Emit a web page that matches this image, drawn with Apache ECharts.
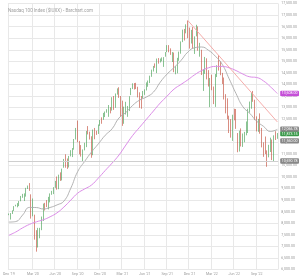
<!DOCTYPE html>
<html><head><meta charset="utf-8">
<script src="https://cdn.jsdelivr.net/npm/echarts@6/dist/echarts.min.js"></script>
<style>html,body{margin:0;padding:0;background:#fff}#c{width:300px;height:279px}</style>
</head><body><div id="c"></div>
<script>
// Weekly Nasdaq 100 candles, first week 2019-11-25
const startDate = '2019-11-25';
const opens = [8380,8410,8430,8540,8750,8790,8760,8960,9180,9020,9200,9520,9640,9150,8500,8000,7400,7100,7500,7750,8180,8800,8800,8650,9140,9250,9390,9550,9850,9500,10070,9870,10420,10800,10520,10530,10900,11170,11210,11650,12160,11350,11250,10830,11250,11350,12100,11900,11590,11000,12000,11930,11880,12270,12500,12480,12720,12840,12900,12980,12880,13440,13000,13630,13820,13350,13000,12600,12800,12850,12900,13560,13830,14040,14000,13880,13560,13380,13450,13720,13790,14090,14120,14370,14660,14830,14600,15100,15000,15120,15100,15210,15420,15680,15440,15050,15300,14520,14600,15100,15400,15870,16350,16300,16650,16200,15800,16300,15500,16100,16350,15500,15400,14300,14700,14950,14200,14000,14180,13700,13400,14400,14900,14850,14350,14100,13300,12900,12450,12300,11850,12700,12600,11800,11150,12050,11400,11800,11900,12050,12900,13200,13620,13180,12450,12000,12550,11900,11250,11050,11000,10850,11400,11550,10900,11700,11680];
const highs = [8420,8440,8560,8740,8800,8870,8960,9180,9270,9290,9530,9630,9736,9250,9070,8370,7700,7800,7800,8290,8850,8880,9000,9140,9290,9400,9560,9830,10020,10100,10200,10360,10780,10980,10800,10910,11160,11250,11640,12120,12439,11560,11380,11190,11480,11990,12200,11960,11760,12050,12120,12000,12270,12470,12580,12770,12830,12930,13110,13020,13450,13500,13610,13830,13880,13500,13300,13040,13250,13070,13490,13850,14050,14060,14070,13900,13660,13500,13720,13790,14090,14170,14380,14640,14800,14910,15120,15140,15120,15170,15180,15400,15700,15700,15560,15400,15380,14790,15150,15420,15860,16370,16400,16600,16764,16460,16360,16480,16080,16580,16510,15800,15500,14660,15190,15130,14620,14280,14420,13910,14450,14830,15265,15000,14500,14300,13580,13400,12650,12500,12690,12950,12940,11900,12000,12100,11880,11950,12400,12950,13260,13640,13720,13340,12620,12510,12750,12120,11500,11750,11150,11390,11700,11620,11800,11980,11900];
const lows = [8350,8160,8400,8530,8730,8690,8740,8950,9100,8960,9150,9480,9400,8200,8300,7290,6771,6950,7350,7700,8100,8550,8700,8600,8900,9230,9260,9530,9450,9470,9830,9850,10400,10400,10350,10410,10890,10860,11180,11620,11500,10980,10880,10680,11150,11290,11840,11620,10830,10940,11630,11820,11860,12210,12300,12470,12590,12780,12600,12750,12870,12900,12990,13560,13420,12600,12210,12300,12700,12600,12850,13540,13800,13780,13800,13440,12990,12950,13400,13550,13740,13900,14060,14330,14560,14720,14490,14900,14950,15000,14760,15200,15400,15390,15280,14970,14530,14440,14480,15020,15330,15830,15900,16210,16000,15550,15770,15550,15320,16080,15460,15200,14410,13720,14460,14220,13910,13020,13750,13150,13030,14320,14600,14400,14020,13350,12750,12500,11900,11700,11560,12450,12080,11070,11100,11320,11300,11500,11800,11900,12780,12950,13250,12460,11970,11950,11870,11280,10870,10990,10440,10850,11080,10730,10690,11600,11650];
const closes = [8403,8437,8523,8735,8778,8794,8946,9174,9187,9151,9513,9623,9446,8462,8530,7875,6994,7587,7528,8230,8833,8784,8718,9122,9152,9325,9555,9825,9589,10056,9849,10341,10768,10504,10461,10906,11139,11186,11620,12110,11622,11087,10938,11168,11305,11980,11877,11692,10912,12044,11936,11855,12258,12468,12440,12756,12804,12888,13105,12803,13366,12925,13603,13807,13474,12909,12668,12824,12821,12934,13480,13845,14041,13975,13860,13720,13430,13362,13687,13773,14069,14143,14360,14640,14799,14730,15116,14960,15111,15150,15150,15375,15652,15404,15325,15310,14566,14579,15146,15358,15850,16345,16285,16573,16025,15712,16330,15552,16056,16320,15592,15611,14441,14644,14920,14254,13943,14238,13838,13301,14420,14813,14862,14441,14059,13357,12855,12603,12388,11835,12681,12572,12087,11099,11985,11428,11840,11860,12080,12947,13206,13630,13249,12465,12040,12498,11948,11312,10971,11040,10737,11384,11600,10850,11700,11677,11873];

// Moving averages read at every 4th week
const maIdx = [0,4,8,12,16,20,24,28,32,36,40,44,48,52,56,60,64,68,72,76,80,84,88,92,96,100,104,108,112,116,120,124,128,132,136,140,144,148,152,156];
const ma20 = [8050,8072,8354,8683,8679,8617,8682,8792,8956,9514,10232,10668,11076,11430,11803,12084,12550,12788,13098,13324,13460,13667,14102,14453,14734,15036,15400,15587,15619,15477,15220,14867,14245,13606,13035,12750,12410,12187,11966,12060];
const ma50 = [7480,7620,7800,7950,8060,8150,8280,8450,8700,9000,9300,9480,9650,9950,10280,10600,10950,11380,11800,12150,12500,12850,13200,13500,13800,14000,14200,14420,14600,14720,14780,14780,14720,14600,14450,14330,14300,14150,13900,13608];

// Trend line from the high
const trendIdx = [104, 156];
const trendVal = [16764, 12380];

// Tick labels (x)
const xTickIdx = [0,14,27,40,53,66,79,92,105,118,131,144];
const xTickText = ["Dec '19","Mar '20","Jun '20","Sep '20","Dec '20","Mar '21","Jun '21","Sep '21","Dec '21","Mar '22","Jun '22","Sep '22"];

// Right-side value tags
const tagPurple = 13608.00;
const tagMa20 = 12066.78;
const tagLast = 11873.15;
const tagGrey2 = 11560.00;
const tagLow = 10690.78;

const cats = [];
{ const d0 = new Date(startDate + 'T00:00:00Z');
  for (let i = 0; i < closes.length; i++) { const d = new Date(d0.getTime() + i*7*86400000); cats.push(d.toISOString().slice(0,10)); } }
const candle = closes.map((c,i)=>[opens[i], c, lows[i], highs[i]]);
const fmt = v => v.toLocaleString('en-US',{minimumFractionDigits:2,maximumFractionDigits:2});
const showAt = (i) => xTickIdx.indexOf(i) >= 0;

function tag(v, bg, lineColor) {
  return { yAxis: v, symbol:'none',
    lineStyle: lineColor ? {color:lineColor, width:1, type:'solid'} : {color:'rgba(0,0,0,0)', width:1, type:'solid'},
    label:{show:true, position:'end', formatter: fmt(v), color:'#fff', backgroundColor:bg, fontSize:3.6,
      fontFamily:'Roboto', padding:[0.8,1.5,0.6,1.5], borderRadius:1, distance:2} };
}

const chart = echarts.init(document.getElementById('c'), null, {renderer:'canvas'});
chart.setOption({
  animation:false,
  backgroundColor:'#fff',
  title:{ text:'Nasdaq 100 Index ($IUXX) - Barchart.com', left:3, top:3,
    textStyle:{fontSize:4.6, fontWeight:'normal', color:'#a0a0a0', fontFamily:'Roboto'} },
  grid:{ left:0, right:21, top:3.5, bottom:9.5 },
  xAxis:{ type:'category', data:cats, boundaryGap:true,
    axisLine:{show:false}, axisTick:{show:false},
    axisLabel:{ interval:(i)=>showAt(i), formatter:(v,i)=>xTickText[xTickIdx.indexOf(i)] || '', fontSize:3.6, color:'#999', margin:3, fontFamily:'Roboto' },
    splitLine:{ show:true, interval:(i)=>showAt(i), lineStyle:{color:'#e8e8e8', width:1} } },
  yAxis:{ type:'value', position:'right', min:6000, max:17500, interval:500,
    axisLine:{show:false}, axisTick:{show:false},
    axisLabel:{ formatter:fmt, fontSize:3.6, color:'#999', margin:3, fontFamily:'Roboto' },
    splitLine:{ lineStyle:{color:'#e8e8e8', width:1} } },
  series:[
    { type:'candlestick', data:candle, barWidth:'70%',
      itemStyle:{ color:'#3a9a4a', color0:'#c0412e', borderColor:'#3a9a4a', borderColor0:'#c0412e', borderWidth:0.6 },
      markLine:{ silent:true, symbol:'none', animation:false,
        data:[ tag(tagLow,'#888','#cfcfcf'), tag(tagGrey2,'#888'), tag(tagLast,'#3a9a4a') ] } },
    { type:'line', data:maIdx.map((x,k)=>[x, ma20[k]]), smooth:true, showSymbol:false, symbol:'none',
      lineStyle:{color:'#aaaaaa', width:0.9},
      markLine:{ silent:true, symbol:'none', animation:false, data:[ tag(tagMa20,'#888') ] } },
    { type:'line', data:maIdx.map((x,k)=>[x, ma50[k]]), smooth:true, showSymbol:false, symbol:'none',
      lineStyle:{color:'#dc8de8', width:1},
      markLine:{ silent:true, symbol:'none', animation:false, data:[ tag(tagPurple,'#c54fd8') ] } },
    { type:'line', data:trendIdx.map((x,k)=>[x, trendVal[k]]), symbol:'circle', symbolSize:3.5, showSymbol:true,
      itemStyle:{color:'#fff', borderColor:'#f0a0a0', borderWidth:0.8},
      lineStyle:{color:'#f4a3a0', width:0.9} }
  ]
});
</script></body></html>
